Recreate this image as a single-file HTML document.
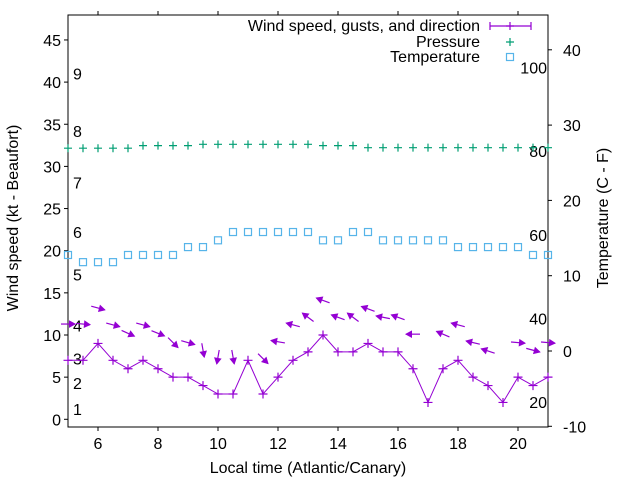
<!DOCTYPE html>
<html><head><meta charset="utf-8"><style>
html,body{margin:0;padding:0;background:#fff;}
svg{display:block;font-family:"Liberation Sans",sans-serif;}
</style></head><body>
<svg id="chart" width="640" height="480" viewBox="0 0 640 480" xmlns="http://www.w3.org/2000/svg">
<rect x="0" y="0" width="640" height="480" fill="#fff"/>
</svg>
<script>
const times=[5,5.5,6,6.5,7,7.5,8,8.5,9,9.5,10,10.5,11,11.5,12,12.5,13,13.5,14,14.5,15,15.5,16,16.5,17,17.5,18,18.5,19,19.5,20,20.5,21];
const windSpeed=[7,7,9,7,6,7,6,5,5,4,3,3,7,3,5,7,8,10,8,8,9,8,8,6,2,6,7,5,4,2,5,4,5];
const gusts=[11.3,11.3,13.2,11.2,10.2,11.2,10.2,9.1,9.1,8.2,7.4,7.4,null,7.2,9.2,11.2,12.1,14.1,12.1,12.1,13.1,12.1,12.1,10.1,null,10.1,11.2,9.1,8.1,null,9.1,8.2,9.1];
const windDir=[270,275,285,285,294,285,292,315,286,350,10,350,null,315,100,105,127,110,110,127,110,101,110,90,null,113,105,103,108,null,275,285,275];
const pressure=[32.16,32.16,32.16,32.16,32.16,32.46,32.46,32.46,32.46,32.62,32.62,32.62,32.62,32.62,32.62,32.62,32.62,32.46,32.46,32.46,32.22,32.22,32.22,32.22,32.22,32.22,32.22,32.22,32.22,32.22,32.22,32.22,32.22];
const temperature=[12.75,11.8,11.8,11.8,12.75,12.75,12.75,12.75,13.8,13.8,14.7,15.8,15.8,15.8,15.8,15.8,15.8,14.7,14.7,15.8,15.8,14.7,14.7,14.7,14.7,14.7,13.8,13.8,13.8,13.8,13.8,12.75,12.75];
const xTicks=[6,8,10,12,14,16,18,20];
const yTicks=[0,5,10,15,20,25,30,35,40,45];
const y2Ticks=[-10,0,10,20,30,40];
const fahrenheit=[20,40,60,80,100];
const beaufortLabels=["1","2","3","4","5","6","7","8","9"];
const beaufortKt=[1.2,4.3,7.2,11.1,17.2,22.2,28.1,34.2,41];

const L=68,R=548,T=15,B=427;
const X=t=>L+(t-5)*(R-L)/16;
const Y=v=>419.3-v*8.43;
const Y2=c=>351-c*7.53;
const NS="http://www.w3.org/2000/svg";
const svg=document.getElementById('chart');
const FS=16;
function mk(tag,attrs,parent){const e=document.createElementNS(NS,tag);for(const k in attrs)e.setAttribute(k,attrs[k]);(parent||svg).appendChild(e);return e;}
function txt(x,y,s,anchor,size,parent){const e=mk('text',{x:x,y:y,'text-anchor':anchor,'font-size':size||FS,fill:'#000'},parent);e.textContent=s;return e;}
const PUR='#9400d3',GRN='#009e73',BLU='#56b4e9';

const box=mk('rect',{x:L,y:T,width:R-L,height:B-T,fill:'none',stroke:'#000','stroke-width':1});



const xg=mk('g',{});


xTicks.forEach(t=>{
  mk('line',{x1:X(t),x2:X(t),y1:B,y2:B+4,stroke:'#000'},xg);
  mk('line',{x1:X(t),x2:X(t),y1:T,y2:T-4,stroke:'#000'},xg);
  const e=txt(X(t),B+22,String(t),'middle',FS,xg);
  
  
});
const yg=mk('g',{});


yTicks.forEach(v=>{
  mk('line',{x1:L-4,x2:L,y1:Y(v),y2:Y(v),stroke:'#000'},yg);
  const e=txt(L-7,Y(v)+6,String(v),'end',FS,yg);
  
  
});
const y2g=mk('g',{});


y2Ticks.forEach(c=>{
  mk('line',{x1:R,x2:R+4,y1:Y2(c),y2:Y2(c),stroke:'#000'},y2g);
  const e=txt(R+15,Y2(c)+6,String(c),'start',FS,y2g);
  
  
});
fahrenheit.forEach(f=>{
  const e=txt(R-1,Y2((f-32)*5/9)+7,String(f),'end',FS);
  
  
});
beaufortLabels.forEach((s,i)=>{
  const e=txt(73,Y(beaufortKt[i])+6,s,'start',FS);
  
  
});

let e=txt(308,473,'Local time (Atlantic/Canary)','middle',FS);


e=txt(0,0,'Wind speed (kt - Beaufort)','middle',FS);
e.setAttribute('transform','translate(18,218) rotate(-90)');


e=txt(0,0,'Temperature (C - F)','middle',FS);
e.setAttribute('transform','translate(608,218) rotate(-90)');



function plus(x,y,c,s,parent){mk('path',{d:`M${x-s} ${y}H${x+s}M${x} ${y-s}V${y+s}`,stroke:c,'stroke-width':1.2,fill:'none'},parent);}

const pg=mk('g',{});


times.forEach((t,i)=>plus(X(t),Y(pressure[i]),GRN,4,pg));

const tg=mk('g',{});


times.forEach((t,i)=>mk('rect',{x:X(t)-3.5,y:Y2(temperature[i])-3.5,width:7,height:7,fill:'none',stroke:BLU,'stroke-width':1.2},tg));

const wg=mk('g',{});


mk('polyline',{points:times.map((t,i)=>X(t)+','+Y(windSpeed[i])).join(' '),fill:'none',stroke:PUR,'stroke-width':1},wg);
times.forEach((t,i)=>plus(X(t),Y(windSpeed[i]),PUR,4.5,wg));

const ag=mk('g',{});


times.forEach((t,i)=>{
  if(gusts[i]==null||windDir[i]==null)return;
  const b=(windDir[i]+180)*Math.PI/180;
  const dx=Math.sin(b),dy=-Math.cos(b);
  const cx=X(t),cy=Y(gusts[i]),h=7;
  const x1=cx-dx*h,y1=cy-dy*h,x2=cx+dx*h,y2=cy+dy*h;
  mk('line',{x1:x1,y1:y1,x2:x2,y2:y2,stroke:PUR,'stroke-width':1.2},ag);
  const px=-dy,py=dx,hl=5.5,hw=3;
  const bx=x2-dx*hl,by=y2-dy*hl;
  mk('polygon',{points:`${x2},${y2} ${bx+px*hw},${by+py*hw} ${bx-px*hw},${by-py*hw}`,fill:PUR,stroke:PUR,'stroke-width':1},ag);
});

const lg=mk('g',{});


txt(480,31,'Wind speed, gusts, and direction','end',FS,lg);
mk('path',{d:'M490 26H531M490 22V30M531 22V30',stroke:PUR,'stroke-width':1.2,fill:'none'},lg);
plus(510,26,PUR,4,lg);
txt(480,47,'Pressure','end',FS,lg);
plus(510,42,GRN,4,lg);
txt(480,62,'Temperature','end',FS,lg);
mk('rect',{x:506.5,y:53.5,width:7,height:7,fill:'none',stroke:BLU,'stroke-width':1.2},lg);
</script>
</body></html>
